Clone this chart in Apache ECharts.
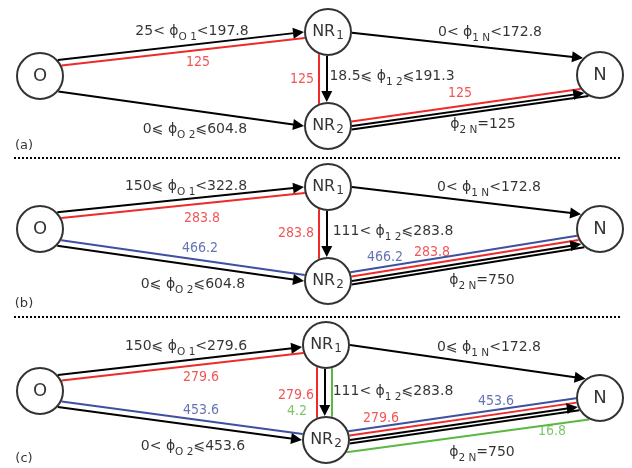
<!DOCTYPE html>
<html><head><meta charset="utf-8">
<script src="https://cdn.jsdelivr.net/npm/echarts@6/dist/echarts.min.js"></script>
<style>html,body{margin:0;padding:0;background:#fff}#c{width:632px;height:468px}</style>
</head><body><div id="c"></div>
<script>
// ---------- data ----------
const panelNames = ['(a)', '(b)', '(c)'];
const nodeNames = ['O', 'NR1', 'NR2', 'N'];
const o1Low = [25, 150, 150];
const o1High = [197.8, 322.8, 279.6];
const o1Ops = [['<', '<'], ['⩽', '<'], ['⩽', '<']];
const o2Low = [0, 0, 0];
const o2High = [604.8, 604.8, 453.6];
const o2Ops = [['⩽', '⩽'], ['⩽', '⩽'], ['<', '⩽']];
const r12Low = [18.5, 111, 111];
const r12High = [191.3, 283.8, 283.8];
const r12Ops = [['⩽', '⩽'], ['<', '⩽'], ['<', '⩽']];
const n1Low = [0, 0, 0];
const n1High = [172.8, 172.8, 172.8];
const n1Ops = [['<', '<'], ['<', '<'], ['⩽', '<']];
const n2Fixed = [125, 750, 750];
const redFlow = [125, 283.8, 279.6];      // O -> NR1 -> NR2 -> N
const blueFlow = [null, 466.2, 453.6];    // O -> NR2 -> N
const greenFlow12 = [null, null, 4.2];    // NR1 - NR2
const greenFlow2N = [null, null, 16.8];   // NR2 - N

// ---------- layout ----------
const nodePos = [
  [[40, 76], [328, 32], [328, 126], [600, 75]],
  [[40, 229], [328, 187], [328, 281], [600, 229]],
  [[40, 391], [326, 345], [326, 440], [600, 398]]
];
const edgeEnds = { O1: [0, 1], O2: [0, 2], '12': [1, 2], '1N': [1, 3], '2N': [2, 3] };
const ports = [
  { O1: [-42, 180], O2: [40, 180], '12': [93, -93], '1N': [2, -135], '2N': [0, 131] },
  { O1: [-44, 180], O2: [44, 180], '12': [93, -93], '1N': [0, -142], '2N': [0, 141] },
  { O1: [-42, 175], O2: [42, 180], '12': [93, -93], '1N': [0, -127], '2N': [0, 158] }
];
const greenPorts2N = [31, 117];
const labelPos = [
  { O1: [192, 31], O2: [195, 129], '12': [392, 76], '1N': [490, 32], '2N': [483, 124],
    rO1: [198, 62], r12: [302, 79], r2N: [460, 93], panel: [24, 146] },
  { O1: [186, 186], O2: [193, 284], '12': [393, 231], '1N': [489, 187], '2N': [482, 280],
    rO1: [202, 218], r12: [296, 233], r2N: [432, 252], bO2: [200, 248], b2N: [385, 257], panel: [24, 304] },
  { O1: [186, 346], O2: [193, 446], '12': [393, 391], '1N': [489, 347], '2N': [482, 452],
    rO1: [201, 377], r12: [296, 395], r2N: [381, 418], bO2: [201, 410], b2N: [496, 401],
    g12: [297, 411], g2N: [552, 431], panel: [24, 459] }
];
const RED = '#ee2a2a', BLUE = '#3e50a0', GREEN = '#5cb845', BLACK = '#000';
const R = 24, ARROW = 11;

// ---------- geometry helpers ----------
function rad(a) { return a * Math.PI / 180; }
function seg(c0, c1, a0, a1, off, arrow) {
  const p0 = [c0[0] + R * Math.cos(rad(a0)), c0[1] + R * Math.sin(rad(a0))];
  const p1 = [c1[0] + R * Math.cos(rad(a1)), c1[1] + R * Math.sin(rad(a1))];
  const L = Math.hypot(p1[0] - p0[0], p1[1] - p0[1]);
  const u = [(p1[0] - p0[0]) / L, (p1[1] - p0[1]) / L];
  const n = [-u[1], u[0]];
  const q0 = [p0[0] + n[0] * off, p0[1] + n[1] * off];
  function hit(c, wantMax) {
    const f = [q0[0] - c[0], q0[1] - c[1]];
    const b = f[0] * u[0] + f[1] * u[1];
    const cc = f[0] * f[0] + f[1] * f[1] - R * R;
    const disc = b * b - cc;
    if (disc < 0) return null;
    const s = Math.sqrt(disc);
    return wantMax ? -b + s : -b - s;
  }
  let t0 = off === 0 ? 0 : hit(c0, true); if (t0 === null) t0 = 0;
  let t1 = off === 0 ? L : hit(c1, false); if (t1 === null) t1 = L;
  if (arrow) t1 -= ARROW / 2;
  return [[q0[0] + u[0] * t0, q0[1] + u[1] * t0], [q0[0] + u[0] * t1, q0[1] + u[1] * t1]];
}

const arrowLines = [], plainLines = [], nodeData = [], textData = [];
function bound(low, ops, sub, high) {
  return `{t|${low}${ops[0]} ϕ}{s|${sub}}{t|${ops[1]}${high}}`;
}
const addText = (pos, text) => textData.push({ value: pos, label: { formatter: text, color: BLACK } });
const val = (pos, v, color) => textData.push({ value: pos, label: { formatter: `{v|${v}}`, color } });

for (let p = 0; p < 3; p++) {
  const np = nodePos[p], pt = ports[p], lp = labelPos[p];
  const mk = (key, off, color, arrow, width) => {
    const [a, b] = edgeEnds[key];
    const coords = seg(np[a], np[b], pt[key][0], pt[key][1], off, arrow);
    (arrow ? arrowLines : plainLines).push({ coords, lineStyle: { color, width: width || 2 } });
  };
  ['O1', 'O2', '12', '1N', '2N'].forEach(k => mk(k, 0, BLACK, true));
  mk('2N', 3.5, BLACK, false);
  if (redFlow[p] !== null) {
    mk('O1', 6, RED, false); mk('12', 8, RED, false); mk('2N', -4.5, RED, false);
    val(lp.rO1, redFlow[p], RED);
    val(lp.r12, redFlow[p], RED);
    val(lp.r2N, redFlow[p], RED);
  }
  if (blueFlow[p] !== null) {
    mk('O2', -6, BLUE, false); mk('2N', -9, BLUE, false);
    val(lp.bO2, blueFlow[p], BLUE);
    val(lp.b2N, blueFlow[p], BLUE);
  }
  if (greenFlow12[p] !== null) {
    mk('12', -7, GREEN, false);
    val(lp.g12, greenFlow12[p], GREEN);
  }
  if (greenFlow2N[p] !== null) {
    const coords = seg(np[2], np[3], greenPorts2N[0], greenPorts2N[1], 0, false);
    plainLines.push({ coords, lineStyle: { color: GREEN, width: 2 } });
    val(lp.g2N, greenFlow2N[p], GREEN);
  }
  addText(lp.O1, bound(o1Low[p], o1Ops[p], 'O 1', o1High[p]));
  addText(lp.O2, bound(o2Low[p], o2Ops[p], 'O 2', o2High[p]));
  addText(lp['12'], bound(r12Low[p], r12Ops[p], '1 2', r12High[p]));
  addText(lp['1N'], bound(n1Low[p], n1Ops[p], '1 N', n1High[p]));
  addText(lp['2N'], `{t|ϕ}{s|2 N}{t|=${n2Fixed[p]}}`);
  textData.push({ value: lp.panel, label: { formatter: `{p|${panelNames[p]}}`, color: BLACK } });
  nodeNames.forEach((nm, i) => {
    const f = nm.startsWith('NR') ? `{n|NR}{ns|${nm.slice(2)}}` : `{m|${nm}}`;
    nodeData.push({ value: np[i], label: { formatter: f } });
  });
}
const sepLines = [
  { coords: [[14, 157.5], [621, 157.5]] },
  { coords: [[14, 316.5], [621, 316.5]] }
];

const FONT = 'DejaVu Sans, sans-serif';
const COND = 'DejaVu Sans Condensed, DejaVu Sans, sans-serif';
const chart = echarts.init(document.getElementById('c'), null, { renderer: 'canvas' });
chart.setOption({
  animation: false,
  backgroundColor: '#fff',
  grid: { left: 0, right: 0, top: 0, bottom: 0 },
  xAxis: { type: 'value', min: 0, max: 632, show: false },
  yAxis: { type: 'value', min: 0, max: 468, inverse: true, show: false },
  series: [
    { type: 'lines', coordinateSystem: 'cartesian2d', silent: true, z: 1,
      lineStyle: { color: '#000', width: 2, type: [2, 2], opacity: 1 }, data: sepLines },
    { type: 'lines', coordinateSystem: 'cartesian2d', silent: true, z: 2,
      lineStyle: { opacity: 1 }, data: plainLines },
    { type: 'lines', coordinateSystem: 'cartesian2d', silent: true, z: 3,
      symbol: ['none', 'triangle'], symbolSize: ARROW,
      lineStyle: { opacity: 1 }, data: arrowLines },
    { type: 'scatter', silent: true, z: 5, symbol: 'circle', symbolSize: 46,
      itemStyle: { color: '#fff', borderColor: '#000', borderWidth: 2 },
      label: { show: true, position: 'inside', color: '#000', fontFamily: FONT,
        rich: {
          m: { fontSize: 18, fontFamily: FONT, color: '#000', verticalAlign: 'middle' },
          n: { fontSize: 16, fontFamily: FONT, color: '#000', verticalAlign: 'middle' },
          ns: { fontSize: 12, fontFamily: FONT, color: '#000', padding: [8, 0, 0, 1], verticalAlign: 'middle' }
        } },
      emphasis: { disabled: true }, data: nodeData },
    { type: 'scatter', silent: true, z: 6, symbol: 'circle', symbolSize: 1,
      itemStyle: { color: 'rgba(0,0,0,0)' },
      label: { show: true, position: 'inside', fontFamily: FONT, fontSize: 14,
        rich: {
          t: { fontSize: 14, fontFamily: FONT, verticalAlign: 'middle' },
          s: { fontSize: 10.5, fontFamily: FONT, padding: [13, 0, 0, 0], verticalAlign: 'middle' },
          v: { fontSize: 14, fontFamily: COND, verticalAlign: 'middle' },
          p: { fontSize: 13, fontFamily: FONT, verticalAlign: 'middle' }
        } },
      emphasis: { disabled: true }, data: textData }
  ]
});
</script></body></html>
